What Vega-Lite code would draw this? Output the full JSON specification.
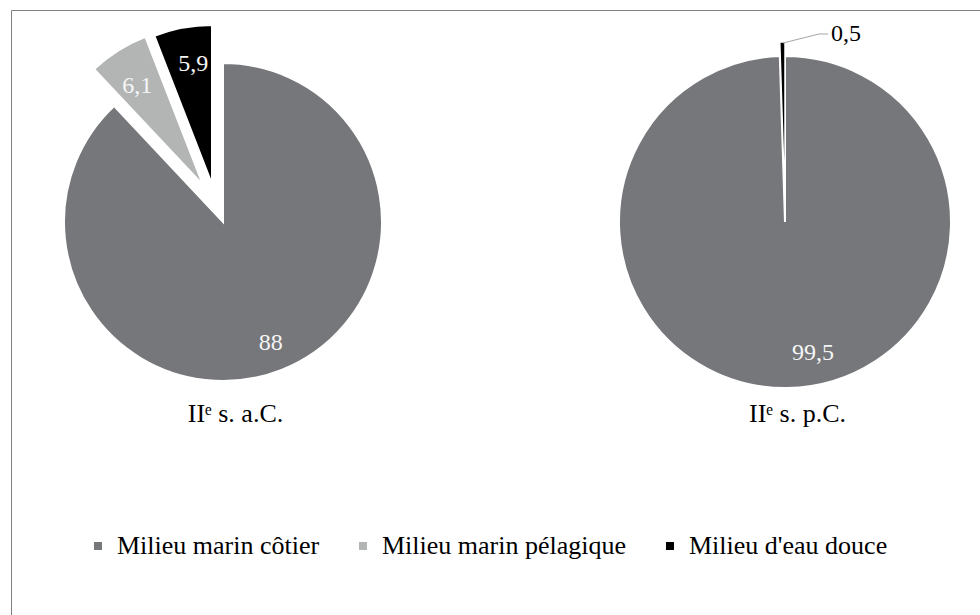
{
  "$schema": "https://vega.github.io/schema/vega-lite/v6.json",
  "width": 975,
  "height": 610,
  "autosize": "none",
  "padding": {"left": 11, "top": 10, "right": 0, "bottom": 0},
  "background": "white",
  "data": {
    "values": [
      {"period": "IIᵉ s. a.C.", "cat": "Milieu marin côtier", "order": 1, "value": 88},
      {"period": "IIᵉ s. a.C.", "cat": "Milieu marin pélagique", "order": 2, "value": 6.1},
      {"period": "IIᵉ s. a.C.", "cat": "Milieu d'eau douce", "order": 3, "value": 5.9},
      {"period": "IIᵉ s. p.C.", "cat": "Milieu marin côtier", "order": 1, "value": 99.5},
      {"period": "IIᵉ s. p.C.", "cat": "Milieu d'eau douce", "order": 3, "value": 0.5}
    ]
  },
  "transform": [
    {"stack": "value", "groupby": ["period"], "sort": [{"field": "order", "order": "ascending"}], "as": ["v0", "v1"]}
  ],
  "encoding": {
    "x": {
      "field": "period", "type": "nominal",
      "scale": {"type": "point", "domain": ["IIᵉ s. a.C.", "IIᵉ s. p.C."], "range": [212, 774], "padding": 0},
      "axis": {"orient": "bottom", "offset": -199, "domain": false, "ticks": false, "tickSize": 0, "grid": false, "title": null, "labelPadding": 0, "labelBaseline": "alphabetic", "labelOffset": 12, "labelFont": "Liberation Serif", "labelFontSize": 26, "labelColor": "#000000", "labelAngle": 0}
    },
    "y": {
      "field": "period", "type": "nominal",
      "scale": {"type": "point", "domain": ["IIᵉ s. a.C.", "IIᵉ s. p.C."], "range": [212, 212], "padding": 0},
      "axis": null
    }
  },
  "layer": [
    {
      "transform": [{"filter": {"and": [{"field": "period", "equal": "IIᵉ s. a.C."}, {"field": "cat", "equal": "Milieu marin côtier"}]}}],
      "mark": {"type": "arc", "radius": 159, "stroke": "white", "strokeWidth": 2},
      "encoding": {
        "theta": {"field": "v0", "type": "quantitative", "scale": {"domain": [0, 100]}},
        "theta2": {"field": "v1"},
        "color": {
          "field": "cat", "type": "nominal",
          "scale": {"domain": ["Milieu marin côtier", "Milieu marin pélagique", "Milieu d'eau douce"], "range": ["#75777a", "#b3b5b5", "#000000"]},
          "legend": {"orient": "none", "legendX": 74, "legendY": 523, "direction": "horizontal", "title": null, "symbolType": "square", "symbolSize": 64, "symbolStrokeWidth": 0, "labelFont": "Liberation Serif", "labelFontSize": 26, "labelColor": "#000000", "labelLimit": 500, "columnPadding": 30, "labelOffset": 6}
        }
      }
    },
    {
      "transform": [{"filter": {"and": [{"field": "period", "equal": "IIᵉ s. a.C."}, {"field": "cat", "equal": "Milieu marin pélagique"}]}}],
      "mark": {"type": "arc", "radius": 159, "stroke": "white", "strokeWidth": 2, "xOffset": -20, "yOffset": -37},
      "encoding": {
        "theta": {"field": "v0", "type": "quantitative", "scale": {"domain": [0, 100]}},
        "theta2": {"field": "v1"},
        "color": {"field": "cat", "type": "nominal", "scale": {"domain": ["Milieu marin côtier", "Milieu marin pélagique", "Milieu d'eau douce"], "range": ["#75777a", "#b3b5b5", "#000000"]}}
      }
    },
    {
      "transform": [{"filter": {"and": [{"field": "period", "equal": "IIᵉ s. a.C."}, {"field": "cat", "equal": "Milieu d'eau douce"}]}}],
      "mark": {"type": "arc", "radius": 159, "stroke": "white", "strokeWidth": 2, "xOffset": -11, "yOffset": -38},
      "encoding": {
        "theta": {"field": "v0", "type": "quantitative", "scale": {"domain": [0, 100]}},
        "theta2": {"field": "v1"},
        "color": {"field": "cat", "type": "nominal", "scale": {"domain": ["Milieu marin côtier", "Milieu marin pélagique", "Milieu d'eau douce"], "range": ["#75777a", "#b3b5b5", "#000000"]}}
      }
    },
    {
      "transform": [{"filter": {"and": [{"field": "period", "equal": "IIᵉ s. p.C."}, {"field": "cat", "equal": "Milieu marin côtier"}]}}],
      "mark": {"type": "arc", "radius": 166, "stroke": "white", "strokeWidth": 2},
      "encoding": {
        "theta": {"field": "v0", "type": "quantitative", "scale": {"domain": [0, 100]}},
        "theta2": {"field": "v1"},
        "color": {"field": "cat", "type": "nominal", "scale": {"domain": ["Milieu marin côtier", "Milieu marin pélagique", "Milieu d'eau douce"], "range": ["#75777a", "#b3b5b5", "#000000"]}}
      }
    },
    {
      "transform": [{"filter": {"and": [{"field": "period", "equal": "IIᵉ s. p.C."}, {"field": "cat", "equal": "Milieu d'eau douce"}]}}],
      "mark": {"type": "arc", "radius": 166, "stroke": "white", "strokeWidth": 1.5, "yOffset": -14},
      "encoding": {
        "theta": {"field": "v0", "type": "quantitative", "scale": {"domain": [0, 100]}},
        "theta2": {"field": "v1"},
        "color": {"field": "cat", "type": "nominal", "scale": {"domain": ["Milieu marin côtier", "Milieu marin pélagique", "Milieu d'eau douce"], "range": ["#75777a", "#b3b5b5", "#000000"]}}
      }
    },
    {
      "transform": [{"filter": {"field": "period", "equal": "IIᵉ s. a.C."}}],
      "mark": {"type": "text", "fill": "#f5f5f5", "font": "Liberation Serif", "fontSize": 24, "align": "center", "baseline": "middle"},
      "encoding": {
        "theta": {"field": "value", "type": "quantitative", "stack": true, "scale": {"domain": [0, 100]}},
        "order": {"field": "order", "type": "quantitative"},
        "detail": {"field": "cat"},
        "radius": {"field": "value", "type": "quantitative", "scale": {"type": "linear", "domain": [6, 88], "range": [161, 130], "zero": false}},
        "text": {"field": "value", "type": "quantitative", "format": "~g"}
      }
    },
    {
      "transform": [{"filter": {"field": "period", "equal": "IIᵉ s. p.C."}}],
      "mark": {"type": "text", "fill": "#f5f5f5", "font": "Liberation Serif", "fontSize": 24, "align": "center", "baseline": "middle", "radius": 131, "xOffset": 26},
      "encoding": {
        "theta": {"field": "value", "type": "quantitative", "stack": true, "scale": {"domain": [0, 100]}},
        "order": {"field": "order", "type": "quantitative"},
        "detail": {"field": "cat"},
        "opacity": {"condition": {"test": "datum.value < 1", "value": 0}, "value": 1},
        "text": {"field": "value", "type": "quantitative", "format": "~g"}
      }
    },
    {
      "transform": [{"filter": {"and": [{"field": "period", "equal": "IIᵉ s. p.C."}, {"field": "cat", "equal": "Milieu d'eau douce"}]}}],
      "mark": {"type": "text", "fill": "#000000", "font": "Liberation Serif", "fontSize": 24, "align": "left", "baseline": "middle", "xOffset": 46, "yOffset": -188},
      "encoding": {
        "text": {"field": "value", "type": "quantitative", "format": "~g"}
      }
    },
    {
      "transform": [{"filter": {"and": [{"field": "period", "equal": "IIᵉ s. p.C."}, {"field": "cat", "equal": "Milieu d'eau douce"}]}}],
      "mark": {"type": "rule", "color": "#a6a6a6", "strokeWidth": 1, "xOffset": -2, "x2Offset": 34, "yOffset": -179, "y2Offset": -188},
      "encoding": {
        "x2": {"field": "period"},
        "y2": {"field": "period"}
      }
    },
    {
      "transform": [{"filter": {"and": [{"field": "period", "equal": "IIᵉ s. p.C."}, {"field": "cat", "equal": "Milieu d'eau douce"}]}}],
      "mark": {"type": "rule", "color": "#a6a6a6", "strokeWidth": 1, "xOffset": 34, "x2Offset": 43, "yOffset": -188, "y2Offset": -188},
      "encoding": {
        "x2": {"field": "period"},
        "y2": {"field": "period"}
      }
    }
  ],
  "config": {
    "view": {"stroke": "#808080", "strokeWidth": 1},
    "locale": {"number": {"decimal": ",", "thousands": " ", "grouping": [3], "currency": ["", " €"]}}
  }
}
